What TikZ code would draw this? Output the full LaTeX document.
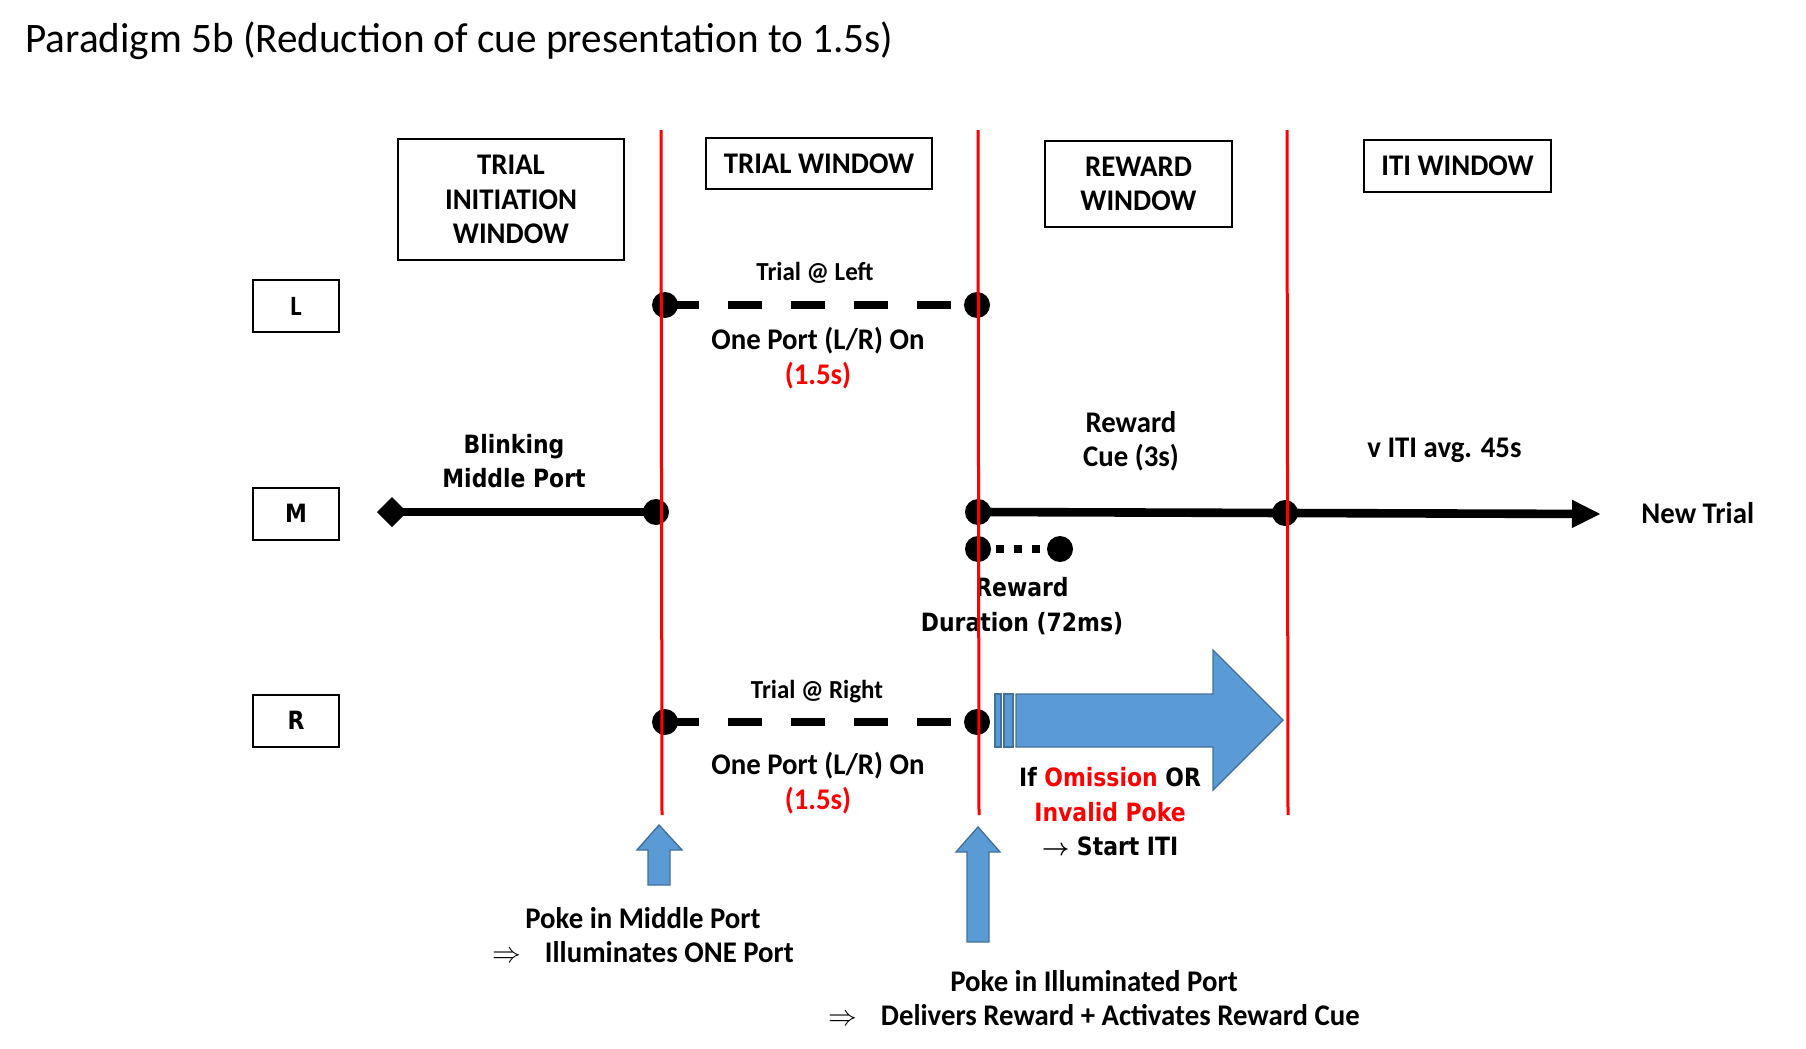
\documentclass[tikz,border=0pt]{standalone}
\usepackage{fontspec}
\usepackage{bm}
\setmainfont{Carlito}
\newfontfamily\titlefont[FakeStretch=0.98]{Carlito}
\newfontfamily\calfont[FakeStretch=0.96]{Carlito}
\newfontfamily\tahfont[FakeStretch=0.87]{DejaVu Sans}
\usetikzlibrary{arrows.meta}
\definecolor{cuered}{HTML}{FF0000}
\definecolor{pokeblue}{HTML}{5B9BD5}
\definecolor{pokeedge}{HTML}{41719C}
\tikzset{
  winbox/.style={draw, line width=1pt, align=center, inner sep=0pt, font=\calfont\bfseries\fontsize{15}{17.25}\selectfont},
  portbox/.style={draw, line width=1pt, minimum width=43pt, minimum height=26pt, inner sep=0pt},
  calbl/.style={align=center, inner sep=0pt, font=\calfont\bfseries\fontsize{15}{17.25}\selectfont},
  smallbl/.style={inner sep=0pt, font=\calfont\bfseries\fontsize{13}{15}\selectfont},
  tahlbl/.style={align=center, inner sep=0pt, font=\tahfont\bfseries\fontsize{12.6}{17.25}\selectfont},
  portdot/.style={circle, fill, inner sep=0pt, minimum size=13pt},
  winline/.style={draw=cuered, line width=1.5pt},
  trialline/.style={line width=4.3pt, dash pattern=on 16.8pt off 14.7pt},
  cueline/.style={line width=4.3pt},
  durline/.style={line width=4.3pt, dash pattern=on 4pt off 5pt},
  pokearrow/.style={fill=pokeblue, draw=pokeedge, line width=0.7pt}
}
\begin{document}
\begin{tikzpicture}[x=0.5pt, y=-0.5pt]
    \useasboundingbox (0,0) rectangle (1806,1049);

    \node[anchor=west, inner sep=0pt, font=\titlefont\fontsize{21}{25}\selectfont] (title) at (25,41) {Paradigm 5b (Reduction of cue presentation to 1.5s)};

    % window boxes
    \node[winbox, minimum width=112.8pt, minimum height=60.5pt] (initwin) at (511,199.5) {TRIAL\\INITIATION\\WINDOW};
    \node[winbox, minimum width=113pt, minimum height=25.5pt] (trialwin) at (819,163.5) {TRIAL WINDOW};
    \node[winbox, minimum width=93.5pt, minimum height=43.3pt] (rewardwin) at (1138.5,183.8) {REWARD\\WINDOW};
    \node[winbox, minimum width=93.5pt, minimum height=25.8pt] (itiwin) at (1457.5,166) {ITI WINDOW};

    % port boxes
    \node[portbox, font=\calfont\bfseries\fontsize{14}{16}\selectfont] (portl) at (296,306) {L};
    \node[portbox, font=\tahfont\bfseries\fontsize{12.6}{15}\selectfont] (portm) at (296,513.5) {M};
    \node[portbox, font=\tahfont\bfseries\fontsize{12.6}{15}\selectfont] (portr) at (296,720.5) {R};

    % event dots
    \node[portdot] (l1) at (665,305) {};
    \node[portdot] (l2) at (977,305) {};
    \node[portdot] (m1) at (656,512) {};
    \node[portdot] (m2) at (978,512) {};
    \node[portdot] (m3) at (1285,513) {};
    \node[portdot] (d1) at (978,549) {};
    \node[portdot] (d2) at (1060,549) {};
    \node[portdot] (r1) at (665,722) {};
    \node[portdot] (r2) at (977,722) {};
    \coordinate (mtip) at (377,512);
    \coordinate (mend) at (1601,514);

    \draw[trialline] (l1.center) -- (l2.center);
    \draw[trialline] (r1.center) -- (r2.center);
    \draw[cueline, {Diamond[length=15pt,width=15pt]}-] (mtip) -- (m1.center);
    \draw[cueline] (m2.center) -- (m3.center);
    \draw[cueline, -{Triangle[length=14.5pt,width=13pt]}] (m3.center) -- (mend);
    \draw[durline] (d1.center) -- (d2.center);

    % blue arrows
    \path[pokearrow] (995,694) rectangle (1001,747);
    \path[pokearrow] (1004,694) rectangle (1013,747);
    \path[pokearrow] (1016,694) -- (1213,694) -- (1213,650) -- (1283,720) -- (1213,790) -- (1213,747) -- (1016,747) -- cycle;
    \path[pokearrow] (648,885) -- (648,850) -- (637,850) -- (659,825) -- (682,850) -- (670,850) -- (670,885) -- cycle;
    \path[pokearrow] (967,942) -- (967,852) -- (956,852) -- (978,827) -- (1000,852) -- (989,852) -- (989,942) -- cycle;

    % labels
    \node[smallbl] (trialleft) at (815,273) {Trial @ Left};
    \node[calbl] (oneportl) at (818,358) {One Port (L/R) On\\\textcolor{cuered}{(1.5s)}};
    \node[smallbl] (trialright) at (817,692) {Trial @ Right};
    \node[calbl] (oneportr) at (818,783) {One Port (L/R) On\\\textcolor{cuered}{(1.5s)}};
    \node[tahlbl] (blink) at (514,461) {Blinking\\Middle Port};
    \node[calbl] (rewardcue) at (1131,441) {Reward\\Cue (3s)};
    \node[calbl, anchor=west] (itiavg) at (1367,450) {v ITI avg. 45s};
    \node[calbl, anchor=west] (newtrial) at (1641,513) {New Trial};
    \node[tahlbl] (rewarddur) at (1022,606) {Reward\\Duration (72ms)};
    \node[tahlbl] (omission) at (1110,812) {If \textcolor{cuered}{Omission} OR\\\textcolor{cuered}{Invalid Poke}\\$\bm{\rightarrow}$ Start ITI};
    \node[calbl] (pokemid) at (643,935) {Poke in Middle Port\\$\Rightarrow$\hspace{12pt}Illuminates ONE Port};
    \node[calbl] (pokeill) at (1094,998) {Poke in Illuminated Port\\$\Rightarrow$\hspace{12pt}Delivers Reward + Activates Reward Cue};

    % window borders
    \coordinate (w1top) at (661,130);
    \coordinate (w1bot) at (662,815);
    \coordinate (w2top) at (978,130);
    \coordinate (w2bot) at (979,815);
    \coordinate (w3top) at (1287,130);
    \coordinate (w3bot) at (1288,815);
    \draw[winline] (w1top) -- (w1bot);
    \draw[winline] (w2top) -- (w2bot);
    \draw[winline] (w3top) -- (w3bot);
\end{tikzpicture}
\end{document}
